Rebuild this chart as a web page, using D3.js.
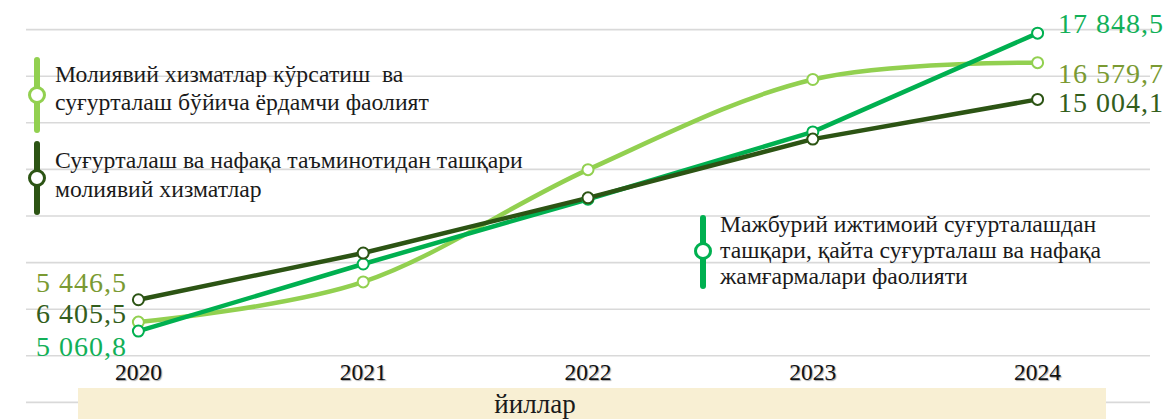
<!DOCTYPE html>
<html>
<head>
<meta charset="utf-8">
<script src="https://cdn.jsdelivr.net/npm/d3@7"></script>
<style>
  body { margin: 0; background: #fff; }
  svg { display: block; font-family: "Liberation Serif", "Times New Roman", serif; }
</style>
</head>
<body>
<script>
const width = 1168;
const height = 419;

// data
const years = ['2020', '2021', '2022', '2023', '2024'];
const insuranceAux = [5446.5, 7170, 11990, 15860, 16579.7];   // light green
const otherFinance = [6405.5, 8410, 10780, 13300, 15004.1];   // dark green
const reinsurance = [5060.8, 7940, 10720, 13610, 17848.5];    // bright green
const gridValues = d3.range(2000, 18001, 2000);

const series = [
    {name: 'insuranceAux', values: insuranceAux, color: '#92d050', label: '#7a9a32', smooth: true},
    {name: 'otherFinance', values: otherFinance, color: '#2c5414', label: '#335e1c', smooth: false},
    {name: 'reinsurance', values: reinsurance, color: '#00b050', label: '#12b058', smooth: false}
];

const svg = d3.select('body').append('svg')
    .attr('width', width)
    .attr('height', height);

const x = d3.scalePoint().domain(years).range([26, 1150]).padding(0.5);
const y = d3.scaleLinear().domain([0, 18000]).range([449, 29.6]);

// gridlines
svg.append('g')
    .attr('stroke', '#d9d9d9')
    .attr('stroke-width', 1.6)
    .selectAll('line')
    .data(gridValues)
    .enter().append('line')
    .attr('x1', 26)
    .attr('x2', 1150)
    .attr('y1', d => y(d))
    .attr('y2', d => y(d));

// axis title band
svg.append('rect')
    .attr('x', 78).attr('y', 388)
    .attr('width', 1028).attr('height', 31)
    .attr('fill', '#f8efd3');
svg.append('text')
    .attr('x', 535).attr('y', 413)
    .attr('text-anchor', 'middle')
    .attr('font-size', 27)
    .attr('fill', '#1a1a1a')
    .text('йиллар');

// year labels
svg.append('g')
    .selectAll('text')
    .data(years)
    .enter().append('text')
    .attr('x', d => x(d))
    .attr('y', 380)
    .attr('text-anchor', 'middle')
    .attr('font-size', 23.5)
    .attr('fill', '#111')
    .style('text-shadow', '1px 1px 1px rgba(0,0,0,0.35)')
    .text(d => d);

// lines
const lineStraight = d3.line()
    .x((d, i) => x(years[i]))
    .y(d => y(d));
const lineSmooth = d3.line()
    .x((d, i) => x(years[i]))
    .y(d => y(d))
    .curve(d3.curveCardinal.tension(0));

const order = [series[0], series[2], series[1]];
order.forEach(s => {
    svg.append('path')
        .datum(s.values)
        .attr('fill', 'none')
        .attr('stroke', s.color)
        .attr('stroke-width', 4.5)
        .attr('stroke-linejoin', 'round')
        .attr('d', s.smooth ? lineSmooth : lineStraight);
});
order.forEach(s => {
    svg.append('g')
        .selectAll('circle')
        .data(s.values)
        .enter().append('circle')
        .attr('cx', (d, i) => x(years[i]))
        .attr('cy', d => y(d))
        .attr('r', 5.5)
        .attr('fill', '#fff')
        .attr('stroke', s.color)
        .attr('stroke-width', 2);
});

// value labels
const fmt = v => {
    const [int, dec] = v.toFixed(1).split('.');
    return int.replace(/\B(?=(\d{3})+(?!\d))/g, ' ') + ',' + dec;
};
const leftLabels = [
    {s: series[0], y: 292},
    {s: series[1], y: 323},
    {s: series[2], y: 356}
];
leftLabels.forEach(l => {
    svg.append('text')
        .attr('x', 127).attr('y', l.y)
        .attr('text-anchor', 'end')
        .attr('font-size', 28)
        .attr('letter-spacing', 1)
        .attr('fill', l.s.label)
        .text(fmt(l.s.values[0]));
});
const rightLabels = [
    {s: series[2], y: 33},
    {s: series[0], y: 83},
    {s: series[1], y: 112}
];
rightLabels.forEach(l => {
    svg.append('text')
        .attr('x', 1058).attr('y', l.y)
        .attr('font-size', 28)
        .attr('letter-spacing', 1)
        .attr('fill', l.s.label)
        .text(fmt(l.s.values[4]));
});

// legend
const legend = [
    {s: series[0], x: 37, y1: 60, y2: 130, cy: 95, tx: 55, ty: 82, lh: 28,
        lines: ['Молиявий хизматлар кўрсатиш  ва', 'суғурталаш бўйича ёрдамчи фаолият']},
    {s: series[1], x: 37, y1: 144, y2: 212, cy: 178, tx: 55, ty: 168, lh: 29,
        lines: ['Суғурталаш ва нафақа таъминотидан ташқари', 'молиявий хизматлар']},
    {s: series[2], x: 703, y1: 218, y2: 286, cy: 251, tx: 720, ty: 232, lh: 26,
        lines: ['Мажбурий ижтимоий суғурталашдан', 'ташқари, қайта суғурталаш ва нафақа', 'жамғармалари фаолияти']}
];
legend.forEach(l => {
    const g = svg.append('g');
    g.append('line')
        .attr('x1', l.x).attr('x2', l.x)
        .attr('y1', l.y1).attr('y2', l.y2)
        .attr('stroke', l.s.color)
        .attr('stroke-width', 6)
        .attr('stroke-linecap', 'round');
    g.append('circle')
        .attr('cx', l.x).attr('cy', l.cy)
        .attr('r', 7.5)
        .attr('fill', '#fff')
        .attr('stroke', l.s.color)
        .attr('stroke-width', 3);
    g.selectAll('text')
        .data(l.lines)
        .enter().append('text')
        .attr('x', l.tx)
        .attr('y', (d, i) => l.ty + i * l.lh)
        .attr('font-size', 23.7)
        .attr('fill', '#1a1a1a')
        .style('white-space', 'pre')
        .text(d => d);
});
</script>
</body>
</html>
